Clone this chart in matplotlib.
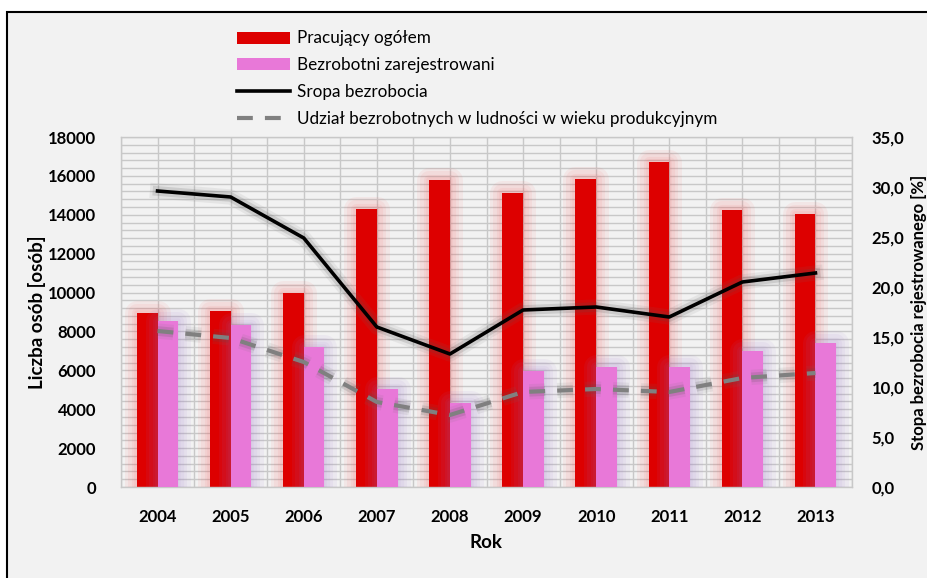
import matplotlib
matplotlib.use("Agg")
import matplotlib.pyplot as plt
import matplotlib.patheffects as pe
import numpy as np
from matplotlib.lines import Line2D
from matplotlib.patches import Patch, Rectangle
from matplotlib.ticker import FuncFormatter, MultipleLocator

years = ["2004", "2005", "2006", "2007", "2008", "2009", "2010", "2011", "2012", "2013"]
pracujacy = [8930, 9050, 9980, 14300, 15790, 15100, 15840, 16720, 14250, 14060]
bezrobotni = [8550, 8320, 7200, 5040, 4340, 5950, 6160, 6160, 7010, 7390]
stopa = [29.6, 29.0, 24.9, 16.0, 13.3, 17.7, 18.0, 17.0, 20.5, 21.4]
udzial = [15.6, 14.9, 12.5, 8.5, 7.2, 9.5, 9.8, 9.5, 10.9, 11.4]

RED = "#dd0000"
PINK = "#e878d8"
BG = "#f2f2f2"
GRID = "#c8c8c8"
FONT = "Lato"

W, H = 928, 578

plt.rcParams["font.family"] = [FONT, "DejaVu Sans"]

fig = plt.figure(figsize=(W / 100, H / 100), dpi=100)
fig.patch.set_facecolor("white")
fig.patches.append(
    Rectangle((7 / W, -0.05), 1.1, 1 - 12 / H + 0.05, transform=fig.transFigure,
              facecolor=BG, edgecolor="black", linewidth=1.5, zorder=-10)
)

ax = fig.add_axes([121 / W, 1 - 487 / H, 731 / W, 350 / H])
ax.set_facecolor(BG)
ax.set_axisbelow(True)

x = np.arange(len(years))
width = 0.283


def glow(color, sizes=(18, 13, 8, 4), alpha=0.07):
    effects = [pe.Stroke(linewidth=s, foreground=color, alpha=alpha, joinstyle="round")
               for s in sizes]
    return effects + [pe.Normal()]


ax.bar(x - width / 2, pracujacy, width, color=RED, zorder=2,
       path_effects=glow("#ff3030", alpha=0.06))
ax.bar(x + width / 2, bezrobotni, width, color=PINK, zorder=3,
       path_effects=glow("#9a70c8", alpha=0.07))

ax.set_xlim(-0.5, len(years) - 0.5)
ax.set_ylim(0, 18000)
ax.yaxis.set_major_locator(MultipleLocator(2000))
ax.yaxis.set_minor_locator(MultipleLocator(400))
ax.set_xticks(x)
ax.set_xticks(np.arange(-0.5, len(years), 1.0), minor=True)
ax.set_xticklabels(years)
ax.grid(True, which="both", color=GRID, linewidth=1.0)
ax.tick_params(which="both", length=0)
ax.tick_params(axis="y", pad=18)
ax.tick_params(axis="x", pad=16)
for lab in ax.get_xticklabels() + ax.get_yticklabels():
    lab.set_fontweight("bold")
    lab.set_fontsize(12)
for sp in ax.spines.values():
    sp.set_color(GRID)
    sp.set_linewidth(1.0)

ax2 = ax.twinx()
ax2.set_ylim(0, 35)
ax2.yaxis.set_major_locator(MultipleLocator(5))
ax2.yaxis.set_major_formatter(FuncFormatter(lambda v, _: f"{v:.1f}".replace(".", ",")))
ax2.tick_params(length=0, pad=14)
for lab in ax2.get_yticklabels():
    lab.set_fontweight("bold")
    lab.set_fontsize(12)
for sp in ax2.spines.values():
    sp.set_visible(False)

line_glow = [pe.Stroke(linewidth=11, foreground="#707070", alpha=0.1),
             pe.Stroke(linewidth=7, foreground="#505050", alpha=0.16),
             pe.Normal()]
ax2.plot(x, udzial, color="#808080", linewidth=3, linestyle=(0, (3.8, 2.9)),
         zorder=4, path_effects=line_glow)
ax2.plot(x, stopa, color="black", linewidth=2.6, zorder=5, path_effects=line_glow)

fig.text(37 / W, 1 - 312 / H, "Liczba osób [osób]", rotation=90, ha="center",
         va="center", fontweight="bold", fontsize=13.5)
fig.text(919 / W, 1 - 312 / H, "Stopa bezrobocia rejestrowanego [%]", rotation=90,
         ha="center", va="center", fontweight="bold", fontsize=12)
fig.text(486 / W, 1 - 542 / H, "Rok", ha="center", va="center",
         fontweight="bold", fontsize=13.5)

handles = [
    Patch(facecolor=RED),
    Patch(facecolor=PINK),
    Line2D([], [], color="black", linewidth=2.6),
    Line2D([], [], color="#808080", linewidth=3, linestyle=(0, (3.8, 2.9))),
]
labels = ["Pracujący ogółem", "Bezrobotni zarejestrowani", "Sropa bezrobocia",
          "Udział bezrobotnych w ludności w wieku produkcyjnym"]
fig.legend(handles, labels, loc="upper left", bbox_to_anchor=(237 / W, 1 - 30.5 / H),
           frameon=False, fontsize=12.3, handlelength=3.1, handleheight=0.7,
           handletextpad=0.4, labelspacing=0.64, borderpad=0, borderaxespad=0)

fig.savefig("out.png", dpi=100, facecolor=fig.get_facecolor())
